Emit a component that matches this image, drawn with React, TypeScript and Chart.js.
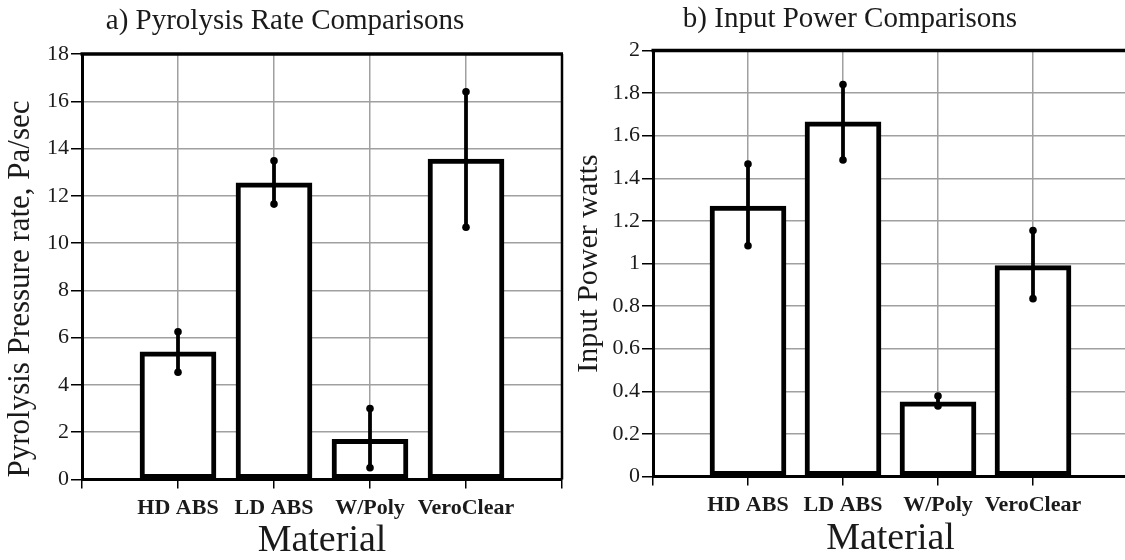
import React, { useEffect, useRef } from "react";
import { Chart, registerables } from "chart.js";

Chart.register(...registerables);

// ---------- data ----------
const categories = ["HD ABS", "LD ABS", "W/Poly", "VeroClear"];

const pyroMean = [5.4, 12.55, 1.7, 13.55];
const pyroHigh = [6.25, 13.48, 3.0, 16.4];
const pyroLow = [4.54, 11.65, 0.5, 10.67];
const pyroTicks = [0, 2, 4, 6, 8, 10, 12, 14, 16, 18];

const powerMean = [1.27, 1.665, 0.35, 0.99];
const powerHigh = [1.467, 1.84, 0.378, 1.155];
const powerLow = [1.083, 1.486, 0.331, 0.835];
const powerTicks = [0, 0.2, 0.4, 0.6, 0.8, 1, 1.2, 1.4, 1.6, 1.8, 2];

const xSlots = [0, 1, 2, 3, 4, 5];

const GRID = "#a0a0a0";
const TEXT = "#1a1a1a";
const SERIF = "'Liberation Serif', 'Times New Roman', serif";

function drawText(
  ctx: CanvasRenderingContext2D,
  text: string,
  x: number,
  y: number,
  size: number,
  sx: number,
  rotate: boolean
) {
  ctx.save();
  ctx.translate(x, y);
  if (rotate) ctx.rotate(-Math.PI / 2);
  ctx.scale(sx, 1);
  ctx.font = `${size}px ${SERIF}`;
  ctx.fillStyle = TEXT;
  ctx.textAlign = "center";
  ctx.textBaseline = "alphabetic";
  ctx.fillText(text, 0, 0);
  ctx.restore();
}

const panelPlugin = {
  id: "panel",
  afterDatasetsDraw(chart: any, _args: any, opts: any) {
    const ctx: CanvasRenderingContext2D = chart.ctx;
    const meta = chart.getDatasetMeta(0);
    const ys = chart.scales.y;
    ctx.save();
    ctx.strokeStyle = "#000";
    ctx.fillStyle = "#000";
    ctx.lineWidth = 3.8;
    ctx.lineCap = "butt";
    meta.data.forEach((el: any, i: number) => {
      const x = el.x;
      const yh = ys.getPixelForValue(opts.high[i]);
      const yl = ys.getPixelForValue(opts.low[i]);
      ctx.beginPath();
      ctx.moveTo(x, yh);
      ctx.lineTo(x, yl);
      ctx.stroke();
      [yh, yl].forEach((y) => {
        ctx.beginPath();
        ctx.arc(x, y, 3.8, 0, Math.PI * 2);
        ctx.fill();
      });
    });
    ctx.restore();
  },
  afterDraw(chart: any, _args: any, opts: any) {
    const ctx: CanvasRenderingContext2D = chart.ctx;
    const a = chart.chartArea;
    ctx.save();
    ctx.strokeStyle = "#000";
    ctx.lineWidth = 3.5;
    ctx.beginPath();
    ctx.moveTo(a.left - 1.5, a.top);
    ctx.lineTo(a.right + 1, a.top);
    ctx.stroke();
    ctx.lineWidth = 2.5;
    ctx.beginPath();
    ctx.moveTo(a.right, a.top);
    ctx.lineTo(a.right, a.bottom);
    ctx.stroke();
    ctx.restore();

    drawText(ctx, opts.title, opts.titleX, opts.titleY, opts.titleSize, opts.sx, false);
    drawText(
      ctx,
      opts.yTitle,
      opts.yTitleX,
      opts.yTitleY ?? (a.top + a.bottom) / 2,
      opts.yTitleSize,
      opts.sx,
      true
    );
    drawText(ctx, "Material", (a.left + a.right) / 2, opts.xTitleY, opts.xTitleSize, 1, false);
  },
};

function makeConfig(
  mean: number[],
  high: number[],
  low: number[],
  yTicks: number[],
  yMax: number,
  area: { left: number; top: number; bottom: number; right: number },
  canvasH: number,
  panel: any,
  fmt: (v: number) => string
): any {
  return {
    type: "bar",
    data: {
      datasets: [
        {
          data: categories.map((_c, i) => ({ x: i + 1, y: mean[i] })),
          backgroundColor: "#ffffff",
          borderColor: "#000000",
          borderWidth: 5,
          borderSkipped: false,
          barThickness: 76,
        },
      ],
    },
    options: {
      animation: false,
      responsive: false,
      maintainAspectRatio: false,
      events: [],
      layout: { padding: { top: area.top, right: area.right, left: 0, bottom: 0 } },
      plugins: {
        legend: { display: false },
        tooltip: { enabled: false },
        title: { display: false },
        panel: { ...panel, high, low },
      },
      scales: {
        x: {
          type: "linear",
          min: 0,
          max: 5,
          offset: false,
          afterBuildTicks: (s: any) => {
            s.ticks = xSlots.map((v) => ({ value: v }));
          },
          afterFit: (s: any) => {
            s.height = canvasH - area.bottom;
          },
          grid: {
            offset: false,
            color: (c: any) =>
              c.tick && c.tick.value > 0 && c.tick.value < 5 ? GRID : "rgba(0,0,0,0)",
            lineWidth: 1.5,
            tickColor: "#000",
            tickLength: 9,
            tickWidth: 1.5,
          },
          border: { color: "#000", width: 3 },
          ticks: {
            callback: (v: number) => categories[v - 1] ?? "",
            font: { family: SERIF, size: 22, weight: "bold" },
            color: TEXT,
            padding: 7,
            maxRotation: 0,
            autoSkip: false,
          },
        },
        y: {
          type: "linear",
          min: 0,
          max: yMax,
          afterBuildTicks: (s: any) => {
            s.ticks = yTicks.map((v) => ({ value: v }));
          },
          afterFit: (s: any) => {
            s.width = area.left;
          },
          grid: {
            color: (c: any) =>
              c.tick && c.tick.value > 0 && c.tick.value < yMax - 1e-9 ? GRID : "rgba(0,0,0,0)",
            lineWidth: 1.5,
            tickColor: "#000",
            tickLength: 11,
            tickWidth: 1.5,
          },
          border: { color: "#000", width: 3 },
          ticks: {
            callback: (v: number) => fmt(v),
            font: { family: SERIF, size: 22 },
            color: TEXT,
            padding: 2,
            autoSkip: false,
          },
        },
      },
    },
    plugins: [panelPlugin],
  };
}

function Panel(props: { config: any; width: number; height: number; left: number }) {
  const ref = useRef<HTMLCanvasElement | null>(null);
  useEffect(() => {
    if (!ref.current) return;
    const chart = new Chart(ref.current, props.config);
    return () => chart.destroy();
  }, []);
  return (
    <canvas
      ref={ref}
      width={props.width}
      height={props.height}
      style={{
        position: "absolute",
        left: props.left,
        top: 0,
        width: props.width,
        height: props.height,
      }}
    />
  );
}

export default function App() {
  const H = 560;
  const leftCfg = makeConfig(
    pyroMean,
    pyroHigh,
    pyroLow,
    pyroTicks,
    18,
    { left: 82, top: 54, bottom: 479.5, right: 8 },
    H,
    {
      title: "a) Pyrolysis Rate Comparisons",
      titleX: 285,
      titleY: 29,
      titleSize: 29,
      yTitle: "Pyrolysis Pressure rate, Pa/sec",
      yTitleX: 29,
      yTitleY: 289,
      yTitleSize: 31,
      xTitleY: 551,
      xTitleSize: 38,
      sx: 1,
    },
    (v) => String(v)
  );
  const rightCfg = makeConfig(
    powerMean,
    powerHigh,
    powerLow,
    powerTicks,
    2,
    { left: 83, top: 50.5, bottom: 476.5, right: 7 },
    H,
    {
      title: "b) Input Power Comparisons",
      titleX: 280,
      titleY: 27,
      titleSize: 29,
      yTitle: "Input Power watts",
      yTitleX: 27,
      yTitleSize: 30,
      xTitleY: 549,
      xTitleSize: 38,
      sx: 1,
    },
    (v) => String(Number(v.toFixed(1)))
  );
  return (
    <div
      style={{
        position: "absolute",
        left: 0,
        top: 0,
        width: 1125,
        height: 560,
        overflow: "hidden",
        background: "#fff",
      }}
    >
      <Panel config={leftCfg} width={570} height={H} left={0} />
      <Panel config={rightCfg} width={565} height={H} left={570} />
    </div>
  );
}
